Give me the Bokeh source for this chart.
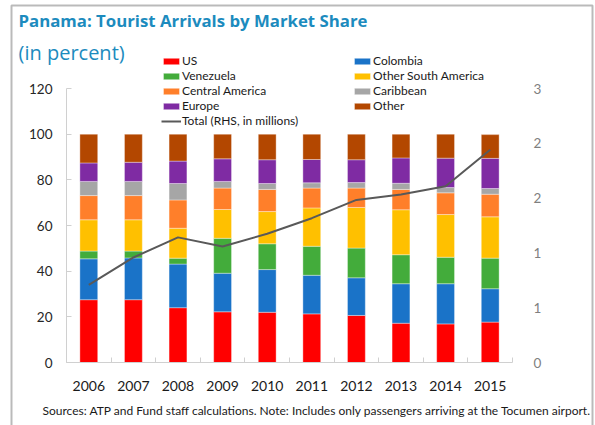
from bokeh.plotting import figure
from bokeh.models import (ColumnDataSource, Range1d, LinearAxis, FixedTicker, NumeralTickFormatter,
                          Legend, LegendItem, Label, BoxAnnotation)
from bokeh.embed import file_html
from bokeh.resources import INLINE

years = ["2006", "2007", "2008", "2009", "2010", "2011", "2012", "2013", "2014", "2015"]
series = ["US", "Colombia", "Venezuela", "Other South America", "Central America", "Caribbean", "Europe", "Other"]
us = [27.5, 27.5, 24.0, 22.2, 22.0, 21.3, 20.6, 17.2, 16.9, 17.7]
colombia = [17.9, 18.3, 19.1, 16.9, 18.7, 16.9, 16.5, 17.3, 17.6, 14.6]
venezuela = [3.4, 3.0, 2.6, 15.3, 11.3, 12.7, 13.0, 12.7, 11.6, 13.4]
other_sa = [13.7, 13.7, 13.1, 12.6, 14.1, 16.8, 17.8, 19.7, 18.7, 18.1]
central_am = [10.6, 10.6, 12.4, 9.4, 9.7, 8.7, 8.5, 8.9, 9.5, 9.9]
caribbean = [6.2, 6.2, 7.2, 2.9, 2.6, 2.3, 2.4, 2.7, 2.3, 2.5]
europe = [8.1, 8.4, 9.8, 9.9, 10.4, 10.2, 10.0, 11.1, 12.9, 13.2]
other = [12.6, 12.3, 11.8, 10.8, 11.2, 11.1, 11.2, 10.4, 10.5, 10.4]
total_millions = [0.85, 1.15, 1.37, 1.27, 1.41, 1.58, 1.78, 1.84, 1.93, 2.33]
left_ticks = [0, 20, 40, 60, 80, 100, 120]
right_ticks = [0, 0.6, 1.2, 1.8, 2.4, 3.0]
left_max, right_max = 120, 3.0

colors = ["#FF0000", "#1A73C8", "#43AC3B", "#FFC000", "#FF7F2A", "#A6A6A6", "#7F2BA3", "#B34700"]
font = "Lato"

# page geometry (pixels) of the plotting box
W, H = 595, 425
PX_L, PX_R, PY_T, PY_B = 66, 512, 88, 362
n = len(years)
sx = (PX_R - PX_L) / n
sy = (PY_B - PY_T) / left_max


def X(px):
    return (px - PX_L) / sx


def Y(py):
    return (PY_B - py) / sy


xpos = [i + 0.5 for i in range(n)]
data = dict(x=xpos, total=total_millions)
for name, vals in zip(series, [us, colombia, venezuela, other_sa, central_am, caribbean, europe, other]):
    data[name] = vals
src = ColumnDataSource(data)

p = figure(width=W, height=H, output_backend="svg", toolbar_location=None,
           x_range=Range1d(X(0), X(W)), y_range=Range1d(Y(H), Y(0)),
           min_border_left=0, min_border_right=0, min_border_top=0, min_border_bottom=0)
p.title = None
p.outline_line_color = None
p.xgrid.visible = False
p.ygrid.visible = False
p.background_fill_color = "white"
p.border_fill_color = "white"

bars = p.vbar_stack(series, x="x", width=0.4, source=src, color=colors,
                    line_color="white", line_width=0.6, line_alpha=0.6)

k = right_max / left_max
p.extra_y_ranges = {"right": Range1d(Y(H) * k, Y(0) * k)}
line = p.line("x", "total", source=src, y_range_name="right", line_color="#595959", line_width=2)

# left axis
ya = p.yaxis[0]
ya.fixed_location = 0
ya.bounds = (0, left_max)
ya.ticker = FixedTicker(ticks=left_ticks)
ya.axis_line_color = "#D0D0D0"
ya.major_tick_line_color = "#D0D0D0"
ya.major_tick_in = 5
ya.major_tick_out = 0
ya.minor_tick_line_color = None
ya.major_label_standoff = 14
ya.major_label_text_font = font
ya.major_label_text_font_size = "13.5px"
ya.major_label_text_color = "#262626"

# bottom axis
xa = p.xaxis[0]
xa.fixed_location = 0
xa.bounds = (0, n)
xa.ticker = FixedTicker(ticks=xpos, minor_ticks=list(range(n + 1)))
xa.major_label_overrides = {x: y for x, y in zip(xpos, years)}
xa.axis_line_color = "#D0D0D0"
xa.major_tick_line_color = None
xa.minor_tick_line_color = "#D0D0D0"
xa.minor_tick_in = 5
xa.minor_tick_out = 0
xa.major_label_standoff = 12
xa.major_label_text_font = font
xa.major_label_text_font_size = "14px"
xa.major_label_text_color = "#1a1a1a"

# right axis
ra = LinearAxis(y_range_name="right", ticker=FixedTicker(ticks=right_ticks),
                formatter=NumeralTickFormatter(format="0"), fixed_location=n, bounds=(0, right_max))
ra.axis_line_color = None
ra.major_tick_line_color = None
ra.minor_tick_line_color = None
ra.major_label_standoff = 15
ra.major_label_text_font = font
ra.major_label_text_font_size = "13.5px"
ra.major_label_text_color = "#7F7F7F"
p.add_layout(ra, "right")

# legends (two columns)
left_items = [LegendItem(label=series[i], renderers=[bars[i]]) for i in (0, 2, 4, 6)]
left_items.append(LegendItem(label="Total (RHS, in millions)", renderers=[line]))
right_items = [LegendItem(label=series[i], renderers=[bars[i]]) for i in (1, 3, 5, 7)]
for items, loc in ((left_items, (161, H - 128)), (right_items, (352, H - 113))):
    lg = Legend(items=items, location=loc, orientation="vertical")
    lg.background_fill_alpha = 0
    lg.border_line_color = None
    lg.padding = 0
    lg.margin = 0
    lg.spacing = 0
    lg.glyph_width = 20
    lg.glyph_height = 8
    lg.label_height = 15
    lg.label_standoff = 1
    lg.label_text_font = font
    lg.label_text_font_size = "12px"
    lg.label_text_color = "#1a1a1a"
    p.add_layout(lg, "center")

# titles and footer
p.add_layout(Label(x=X(18), y=Y(20), text="Panama: Tourist Arrivals by Market Share",
                   text_font="Open Sans", text_font_style="bold", text_font_size="16.8px",
                   text_color="#1C8BBE", text_baseline="middle", text_align="left"))
p.add_layout(Label(x=X(18), y=Y(52), text="(in percent)", text_font="Open Sans",
                   text_font_size="20px", text_color="#1C8BBE",
                   text_baseline="middle", text_align="left"))
p.add_layout(Label(x=X(42), y=Y(410),
                   text="Sources: ATP and Fund staff calculations. Note: Includes only passengers arriving at the Tocumen airport.",
                   text_font=font, text_font_size="12px", text_color="#1a1a1a",
                   text_baseline="middle", text_align="left"))

p.add_layout(BoxAnnotation(left=X(11), right=X(592), top=Y(5), bottom=Y(440),
                           fill_alpha=0, line_color="#1a1a1a", line_width=2))

open("out.html", "w").write(file_html(p, INLINE))
